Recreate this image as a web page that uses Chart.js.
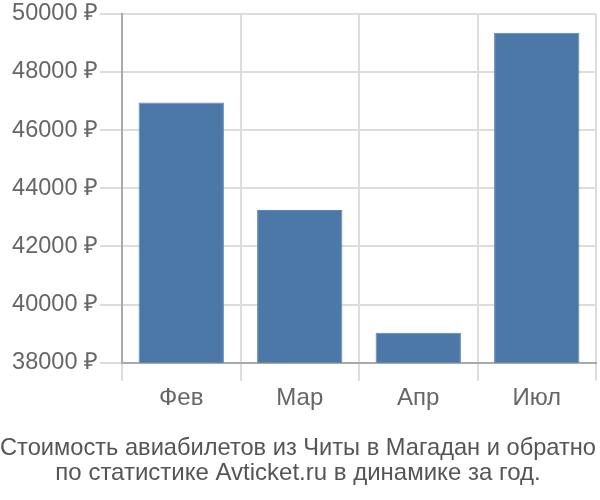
<!DOCTYPE html>
<html>
<head>
<meta charset="utf-8">
<script src="https://cdn.jsdelivr.net/npm/chart.js@4"></script>
<style>
  body { margin: 0; background: #fff; }
  #wrap { width: 600px; height: 500px; }
</style>
</head>
<body>
<div id="wrap"><canvas id="chart"></canvas></div>
<script>
const months = ["Фев", "Мар", "Апр", "Июл"];
const prices = [46950, 43250, 39030, 49350];
const titleLines = [
  "Стоимость авиабилетов из Читы в Магадан и обратно",
  "по статистике Avticket.ru в динамике за год."
];

const FONT = "Liberation Sans";
const FS = 24;

const ctx = document.getElementById("chart").getContext("2d");
new Chart(ctx, {
  type: "bar",
  data: {
    labels: months,
    datasets: [{
      data: prices,
      backgroundColor: "#4c78a8",
      borderColor: "#5a84b2",
      borderWidth: 1,
      barPercentage: 0.72,
      categoryPercentage: 1
    }]
  },
  options: {
    responsive: true,
    maintainAspectRatio: false,
    animation: false,
    // no side padding, so the title keeps its full width
    layout: { padding: { top: 0, right: 4, left: 0, bottom: 14 } },
    plugins: {
      legend: { display: false },
      tooltip: { enabled: false },
      title: {
        display: true,
        position: "bottom",
        text: titleLines,
        color: "#555",
        font: { family: FONT, size: FS, weight: "normal", lineHeight: 1.04 },
        padding: { top: 20.5, bottom: 0 }
      }
    },
    scales: {
      x: {
        grid: { color: "#ddd", lineWidth: 2, tickLength: 18, offset: true },
        border: { color: "#aaa", width: 2 },
        ticks: {
          color: "#666",
          font: { family: FONT, size: FS },
          padding: 3
        }
      },
      y: {
        min: 38000,
        max: 50000,
        afterFit: scale => { scale.width = 122; },
        grid: { color: "#ddd", lineWidth: 2, tickLength: 22 },
        border: { color: "#aaa", width: 2 },
        ticks: {
          stepSize: 2000,
          color: "#666",
          font: { family: FONT, size: 23.5, lineHeight: 1.0 },
          padding: 2,
          callback: v => v + " ₽"
        }
      }
    }
  }
});
</script>
</body>
</html>
